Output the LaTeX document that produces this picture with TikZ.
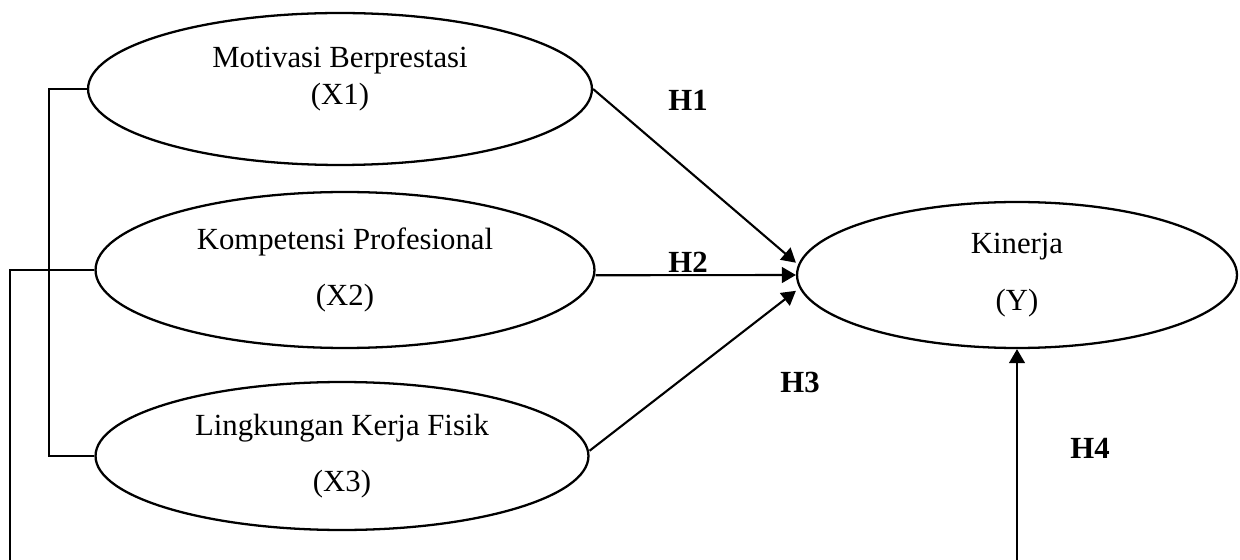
\documentclass[tikz,border=0pt]{standalone}
\usepackage{fontspec}
\setmainfont{Liberation Serif}
\usetikzlibrary{shapes.geometric}
\usetikzlibrary{arrows.meta}
\usetikzlibrary{positioning}
\begin{document}
\begin{tikzpicture}[x=0.02cm,y=-0.02cm]
\tikzset{construct/.style={ellipse,draw,line width=1.3pt,inner sep=0pt,align=center,font=\fontsize{17.5}{21}\selectfont},
hyp/.style={font=\fontsize{17.5}{21}\selectfont\bfseries},
path/.style={line width=1.2pt,-{Triangle[length=8pt,width=9pt]}}}
\useasboundingbox (0,0) rectangle (1240,560);
\node[construct,minimum width=10.08cm,minimum height=3.04cm](x1) at (340,89){Motivasi Berprestasi\\(X1)\\[-6pt]};
\node[construct,minimum width=9.98cm,minimum height=3.12cm](x2) at (345,270){Kompetensi Profesional\\[11pt](X2)};
\node[construct,minimum width=9.86cm,minimum height=2.96cm](x3) at (342,456){Lingkungan Kerja Fisik\\[11pt](X3)};
\node[construct,minimum width=8.8cm,minimum height=2.92cm](y) at (1017,275){Kinerja\\[11pt](Y)};
\node[hyp](h1) at (688,100){H1};
\node[hyp](h2) at (688,262){H2};
\node[hyp](h3) at (800,382){H3};
\node[hyp](h4) at (1090,448){H4};
\coordinate (bl) at (10,560);
\coordinate (br) at (y.south |- bl);
\draw[line width=0.7pt](x1.west) -- ++(-38,0) |- (x3.west);
\draw[line width=0.7pt](x2.west) -| (bl);
\draw[path](x1.east) -- ([yshift=7pt]y.west);
\draw[path]([yshift=-3pt]x2.east) -- (y.west);
\draw[path]([yshift=3pt]x3.east) -- ([yshift=-9pt]y.west);
\draw[path](br) -- (y.south);
\end{tikzpicture}
\end{document}
